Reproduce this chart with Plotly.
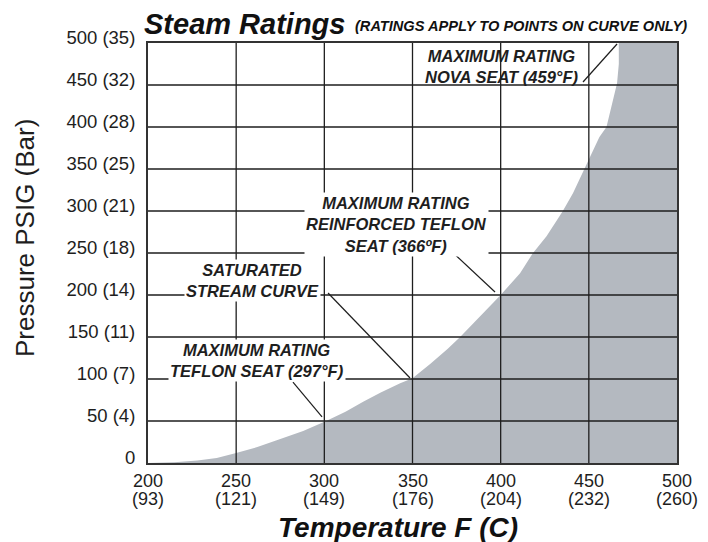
import plotly.graph_objects as go

# ---- data ----
temp_f = [200, 215, 228, 239, 250, 262, 273, 288, 301, 312, 322, 332, 343, 350,
          360, 370, 377, 388, 400, 411, 418, 426, 435, 441, 447, 452, 456, 460,
          463, 466, 467, 467]
pressure_psig = [0, 1, 3, 6, 12, 19, 27, 38, 50, 61, 73, 84, 95, 101,
                 118, 136, 150, 174, 200, 226, 249, 270, 299, 321, 348, 372, 388, 400,
                 425, 452, 475, 500]

x_tick_vals = [200, 250, 300, 350, 400, 450, 500]
x_tick_f_text = ["200", "250", "300", "350", "400", "450", "500"]
x_tick_c_text = ["(93)", "(121)", "(149)", "(176)", "(204)", "(232)", "(260)"]
y_tick_vals = [0, 50, 100, 150, 200, 250, 300, 350, 400, 450, 500]
y_tick_text = ["0", "50 (4)", "100 (7)", "150 (11)", "200 (14)", "250 (18)",
               "300 (21)", "350 (25)", "400 (28)", "450 (32)", "500 (35)"]

# callouts: text, text position (F, psig), leader line start and end (F, psig), white box
callout_text = ["MAXIMUM RATING<br>NOVA SEAT (459°F)",
                "MAXIMUM RATING<br>REINFORCED TEFLON<br>SEAT (366ºF)",
                "SATURATED<br>STREAM CURVE",
                "MAXIMUM RATING<br>TEFLON SEAT (297°F)"]
callout_pos = [(400.5, 472.6), (341.2, 284.5), (259, 217.8), (261.8, 122)]
leader_start = [(446.7, 453.6), (370.7, 254.8), (302.1, 202.4), (282.2, 96.4)]
leader_end = [(466.0, 498.8), (396.8, 203.6), (348.6, 101.2), (298.7, 54.8)]
callout_box = [False, True, True, True]

FONT = "Liberation Sans, Arial, sans-serif"
GRAY = "#b4b9c0"
INK = "#1e1e1e"

# the page body adds an 8px offset; plot area should sit at page x 148-677, y 43-463
OFF = 8
W, H = 708, 542
PL, PR, PT, PB = 148, 677, 43, 463          # plot edges in page pixels
PW, PH = PR - PL, PB - PT
ML, MT = PL - OFF, PT - OFF
MR, MB = W - ML - PW, H - MT - PH


def px_x(p):   # page pixel x -> paper fraction
    return (p - PL) / PW


def px_y(p):   # page pixel y -> paper fraction
    return (PB - p) / PH


fig = go.Figure()
fig.add_trace(go.Scatter(
    x=temp_f + [500, 500],
    y=pressure_psig + [500, 0],
    fill="toself", fillcolor=GRAY, mode="lines",
    line=dict(width=0, color=GRAY), hoverinfo="skip", showlegend=False))

shapes = []
for v in x_tick_vals[1:-1]:
    shapes.append(dict(type="line", xref="x", yref="y", x0=v, x1=v, y0=0, y1=500,
                       line=dict(color=INK, width=1.3), layer="above"))
for v in y_tick_vals[1:-1]:
    shapes.append(dict(type="line", xref="x", yref="y", x0=200, x1=500, y0=v, y1=v,
                       line=dict(color=INK, width=1.3), layer="above"))
for (sx, sy), (ex, ey) in zip(leader_start, leader_end):
    shapes.append(dict(type="line", xref="x", yref="y", x0=sx, y0=sy, x1=ex, y1=ey,
                       line=dict(color=INK, width=1.2), layer="above"))

annotations = []
for txt, (ax_, ay_), box in zip(callout_text, callout_pos, callout_box):
    annotations.append(dict(
        x=ax_, y=ay_, xref="x", yref="y", text="<b><i>" + txt + "</i></b>",
        showarrow=False, align="center",
        font=dict(family=FONT, size=16.5, color=INK),
        bgcolor="white" if box else "rgba(0,0,0,0)", borderpad=1))

# x tick labels (two tight lines: °F over °C)
for v, tf, tc in zip(x_tick_vals, x_tick_f_text, x_tick_c_text):
    annotations.append(dict(x=v, y=0, xref="x", yref="paper", text=tf, showarrow=False,
                            yanchor="middle", yshift=-(481 - PB), borderpad=0,
                            font=dict(family=FONT, size=18, color=INK)))
    annotations.append(dict(x=v, y=0, xref="x", yref="paper", text=tc, showarrow=False,
                            yanchor="middle", yshift=-(499 - PB), borderpad=0,
                            font=dict(family=FONT, size=18, color=INK)))

# titles
annotations.append(dict(
    x=px_x(143), y=px_y(24.5), xref="paper", yref="paper", xanchor="left", yanchor="middle",
    text="<b><i>Steam Ratings</i></b>", borderpad=0,
    showarrow=False, font=dict(family=FONT, size=29, color="#111")))
annotations.append(dict(
    x=px_x(353), y=px_y(26), xref="paper", yref="paper", xanchor="left", yanchor="middle",
    text="<b><i>(RATINGS APPLY TO POINTS ON CURVE ONLY)</i></b>",
    showarrow=False, font=dict(family=FONT, size=14.6, color="#111")))
annotations.append(dict(
    x=px_x(397.5), y=px_y(527), xref="paper", yref="paper", xanchor="center", yanchor="middle",
    text="<b><i>Temperature F (C)</i></b>",
    showarrow=False, font=dict(family=FONT, size=28, color="#111")))
annotations.append(dict(
    x=px_x(25), y=px_y(238), xref="paper", yref="paper",
    xanchor="center", yanchor="middle", textangle=-90,
    text="Pressure PSIG (Bar)", showarrow=False,
    font=dict(family=FONT, size=26, color=INK)))

fig.update_layout(
    width=W, height=H,
    margin=dict(l=ML, r=MR, t=MT, b=MB),
    paper_bgcolor="white", plot_bgcolor="white",
    shapes=shapes, annotations=annotations,
    showlegend=False,
    xaxis=dict(range=[200, 500], tickvals=x_tick_vals, showticklabels=False,
               showgrid=False, zeroline=False, showline=True, mirror=True,
               linecolor="#333", linewidth=2, ticks="", automargin=False),
    yaxis=dict(range=[0, 500], tickvals=y_tick_vals, ticktext=y_tick_text,
               showgrid=False, zeroline=False, showline=True, mirror=True,
               linecolor="#333", linewidth=2, ticks="", ticklabelshift=-5,
               ticklabelstandoff=7, automargin=False,
               tickfont=dict(family=FONT, size=18.5, color=INK)),
)

fig.write_html("out.html")
